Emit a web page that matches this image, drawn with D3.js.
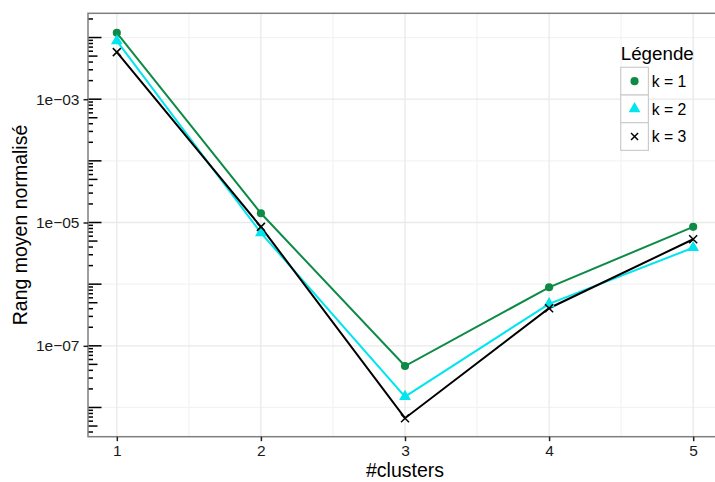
<!DOCTYPE html>
<html>
<head>
<meta charset="utf-8">
<script src="https://cdn.jsdelivr.net/npm/d3@7"></script>
<style>
  body { margin: 0; background: #fff; }
  svg { display: block; font-family: "Liberation Sans", Arial, Helvetica, sans-serif; }
</style>
</head>
<body>
<div id="chart"></div>
<script>
// data
var clusters = [1, 2, 3, 4, 5];
var k1 = [1.19e-2, 1.41e-5, 4.7e-8, 8.9e-7, 8.5e-6];
var k2 = [8.8e-3, 6.8e-6, 1.5e-8, 4.8e-7, 3.9e-6];
var k3 = [5.8e-3, 8.5e-6, 6.7e-9, 4.07e-7, 5.35e-6];
var seriesNames = ["k = 1", "k = 2", "k = 3"];
var seriesColors = ["#0e8a47", "#00e5ee", "#000000"];
var yTickValues = [1e-3, 1e-5, 1e-7];
var yTickLabels = ["1e\u221203", "1e\u221205", "1e\u221207"];

var W = 715, H = 482;
// panel edges (named so they don't clash with window.top)
var pLeft = 88, pRight = 722, pTop = 13.3, pBottom = 436.7;

var svg = d3.select("#chart")
  .append("svg")
  .attr("width", W)
  .attr("height", H);

var x = d3.scaleLinear().domain([0.8, 5.2]).range([pLeft, pRight]);
var y = d3.scaleLog().domain([Math.pow(10, -8.474), Math.pow(10, -1.607)]).range([pBottom, pTop]);

// grid
var grid = svg.append("g");
var minorX = [1.5, 2.5, 3.5, 4.5];
grid.selectAll(".mx").data(minorX).enter().append("line")
  .attr("x1", d => x(d)).attr("x2", d => x(d))
  .attr("y1", pTop).attr("y2", pBottom)
  .attr("stroke", "#f3f3f3").attr("stroke-width", 1.2);
var minorY = [1e-2, 1e-4, 1e-6, 1e-8];
grid.selectAll(".my").data(minorY).enter().append("line")
  .attr("x1", pLeft).attr("x2", pRight)
  .attr("y1", d => y(d)).attr("y2", d => y(d))
  .attr("stroke", "#f3f3f3").attr("stroke-width", 1.2);
grid.selectAll(".gx").data(clusters).enter().append("line")
  .attr("x1", d => x(d)).attr("x2", d => x(d))
  .attr("y1", pTop).attr("y2", pBottom)
  .attr("stroke", "#e9e9e9").attr("stroke-width", 1.3);
grid.selectAll(".gy").data(yTickValues).enter().append("line")
  .attr("x1", pLeft).attr("x2", pRight)
  .attr("y1", d => y(d)).attr("y2", d => y(d))
  .attr("stroke", "#e9e9e9").attr("stroke-width", 1.3);

// series
var series = [k1, k2, k3].map(function(vals, i) {
  return { name: seriesNames[i], color: seriesColors[i], values: clusters.map((c, j) => ({ c: c, v: vals[j] })) };
});

var line = d3.line().x(d => x(d.c)).y(d => y(d.v));

var sg = svg.selectAll(".series").data(series).enter().append("g");
sg.append("path")
  .attr("d", d => line(d.values))
  .attr("fill", "none")
  .attr("stroke", d => d.color)
  .attr("stroke-width", 2);

var symbols = [d3.symbolCircle, d3.symbolTriangle, null];
function drawMarker(g, i, color) {
  if (i === 2) {
    g.append("path").attr("d", "M-4,-4L4,4M-4,4L4,-4")
      .attr("stroke", color).attr("stroke-width", 1.5).attr("fill", "none");
  } else {
    g.append("path").attr("d", d3.symbol().type(symbols[i]).size(i === 0 ? 52 : 60)())
      .attr("fill", color);
  }
}
series.forEach(function(s, i) {
  s.values.forEach(function(p) {
    var g = svg.append("g").attr("transform", "translate(" + x(p.c) + "," + y(p.v) + ")");
    drawMarker(g, i, s.color);
  });
});

// log ticks inside panel
var lt = svg.append("g");
for (var e = -9; e <= -1; e++) {
  for (var m = 1; m <= 9; m++) {
    var v = m * Math.pow(10, e);
    var yy = y(v);
    if (yy < pTop || yy > pBottom) continue;
    var len = m === 1 ? 13.5 : (m === 5 ? 9.5 : 5);
    lt.append("line")
      .attr("x1", pLeft).attr("x2", pLeft + len)
      .attr("y1", yy).attr("y2", yy)
      .attr("stroke", "#000").attr("stroke-width", 1.5);
  }
}

// panel border
svg.append("rect")
  .attr("x", pLeft).attr("y", pTop)
  .attr("width", pRight - pLeft).attr("height", pBottom - pTop)
  .attr("fill", "none").attr("stroke", "#7f7f7f").attr("stroke-width", 1.5);

// axes
var yAxis = svg.append("g")
  .attr("transform", "translate(" + pLeft + ",0)")
  .call(d3.axisLeft(y).tickValues(yTickValues).tickSize(4.5).tickPadding(4)
    .tickFormat((d, i) => yTickLabels[i]));
var xAxis = svg.append("g")
  .attr("transform", "translate(0," + pBottom + ")")
  .call(d3.axisBottom(x).tickValues(clusters).tickSize(4.5).tickPadding(3.5)
    .tickFormat(d3.format("d")));
[yAxis, xAxis].forEach(function(a) {
  a.select(".domain").remove();
  a.selectAll(".tick line").attr("stroke", "#222").attr("stroke-width", 1.5);
  a.selectAll(".tick text").attr("fill", "#1a1a1a").style("font-size", "15.5px")
    .style("font-family", "'Liberation Sans', Arial, sans-serif");
});

// titles
svg.append("text")
  .attr("x", x(3)).attr("y", 477)
  .attr("text-anchor", "middle")
  .style("font-size", "19.5px")
  .text("#clusters");
svg.append("text")
  .attr("transform", "translate(26.5," + (pTop + pBottom) / 2 + ") rotate(-90)")
  .attr("text-anchor", "middle")
  .style("font-size", "19.5px")
  .text("Rang moyen normalisé");

// legend
var lx = 620.7, ly = 67.3, ks = 27.7;
svg.append("text").attr("x", lx).attr("y", 60)
  .style("font-size", "18.8px").text("Légende");
series.forEach(function(s, i) {
  svg.append("rect")
    .attr("x", lx).attr("y", ly + i * ks)
    .attr("width", ks).attr("height", ks)
    .attr("fill", "#fff").attr("stroke", "#cccccc").attr("stroke-width", 1.2);
  var g = svg.append("g").attr("transform", "translate(" + (lx + ks / 2) + "," + (ly + i * ks + ks / 2) + ")");
  if (i === 2) {
    g.append("path").attr("d", "M-3.5,-3.5L3.5,3.5M-3.5,3.5L3.5,-3.5")
      .attr("stroke", s.color).attr("stroke-width", 1.5);
  } else {
    drawMarker(g, i, s.color);
  }
  svg.append("text")
    .attr("x", 651.7).attr("y", ly + i * ks + ks / 2)
    .attr("dy", "0.36em")
    .style("font-size", "15.8px")
    .text(s.name);
});
</script>
</body>
</html>
